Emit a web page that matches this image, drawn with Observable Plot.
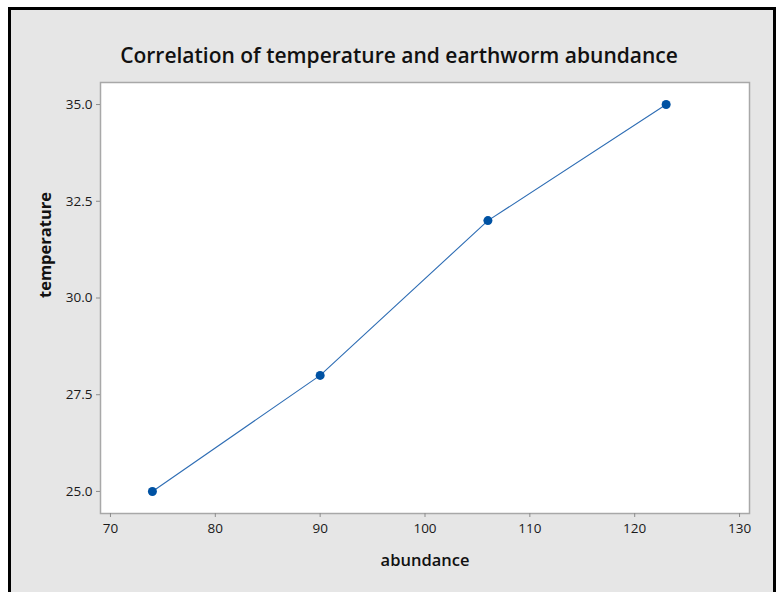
<!DOCTYPE html>
<html>
<head>
<meta charset="utf-8">
<script src="https://cdn.jsdelivr.net/npm/d3@7"></script>
<script src="https://cdn.jsdelivr.net/npm/@observablehq/plot@0.6"></script>
<style>
  html, body { margin: 0; padding: 0; background: white; width: 776px; height: 592px; overflow: hidden; }
  #panel { position: absolute; left: 8px; top: 7px; width: 762px; height: 700px; border: 3px solid #000; background: #e6e6e6; }
  #chart { position: absolute; left: 0; top: 0; }
  #chart g[aria-label*="tick label"], #chart g[aria-label*="tick label"] text { font-size: 13.5px !important; }
</style>
</head>
<body>
<div id="panel"></div>
<div id="chart"></div>
<script>
const abundance = [74, 90, 106, 123];
const temperature = [25.0, 28.0, 32.0, 35.0];
const xTicks = [70, 80, 90, 100, 110, 120, 130];
const yTicks = [25.0, 27.5, 30.0, 32.5, 35.0];
const titleText = "Correlation of temperature and earthworm abundance";
const xLabel = "abundance";
const yLabel = "temperature";

const data = abundance.map((a, i) => ({abundance: a, temperature: temperature[i]}));
const font = "'Open Sans', 'Noto Sans', sans-serif";

const plot = Plot.plot({
  width: 776,
  height: 592,
  marginLeft: 100,
  marginRight: 27,
  marginTop: 82,
  marginBottom: 79,
  style: {background: "transparent", fontFamily: font, fontSize: "13.5px", color: "#1a1a1a"},
  x: {domain: [69.05, 130.95], ticks: xTicks, tickFormat: d3.format("d"), label: null},
  y: {domain: [24.43, 35.57], ticks: yTicks, tickFormat: d3.format(".1f"), label: null},
  marks: [
    Plot.frame({fill: "white", stroke: "#a8a8a8", strokeWidth: 1.5}),
    Plot.axisX({ticks: xTicks, tickFormat: d3.format("d"), tickSize: 4, tickPadding: 6, stroke: "#8c8c8c", fill: "#1a1a1a", fontSize: 13.5, label: null}),
    Plot.axisY({ticks: yTicks, tickFormat: d3.format(".1f"), tickSize: 4, tickPadding: 4, stroke: "#8c8c8c", fill: "#1a1a1a", fontSize: 13.5, label: null}),
    Plot.line(data, {x: "abundance", y: "temperature", stroke: "#2e6db4", strokeWidth: 1.1}),
    Plot.dot(data, {x: "abundance", y: "temperature", r: 4.5, fill: "#0052a3", stroke: "none"}),
    Plot.text([titleText], {frameAnchor: "top", dy: -34, dx: -26, text: d => d, fontSize: 21, fontWeight: 600, fill: "#111", fontFamily: font}),
    Plot.text([xLabel], {frameAnchor: "bottom", dy: 52, text: d => d, fontSize: 16.5, fontWeight: 600, fill: "#111", fontFamily: font}),
    Plot.text([yLabel], {frameAnchor: "left", dx: -55, rotate: -90, text: d => d, fontSize: 16.5, fontWeight: 700, fill: "#111", fontFamily: font})
  ]
});
document.getElementById("chart").append(plot);
</script>
</body>
</html>
